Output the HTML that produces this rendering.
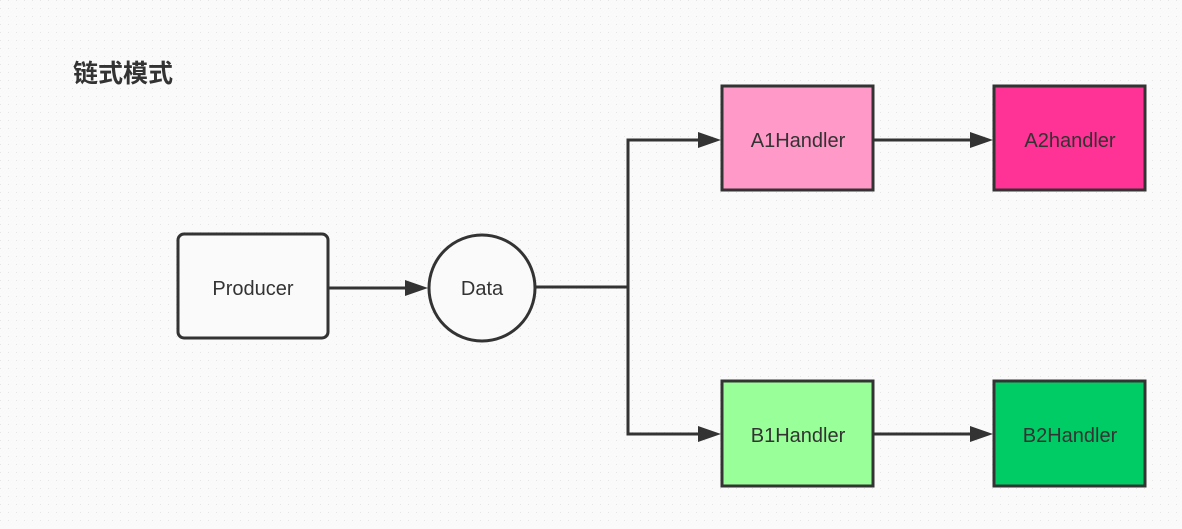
<!DOCTYPE html>
<html><head><meta charset="utf-8"><style>
body{margin:0;width:1182px;height:524px;background:#fafafa;overflow:hidden}
</style></head><body>
<svg width="1182" height="524" xmlns="http://www.w3.org/2000/svg" font-family="'Liberation Sans','Noto Sans CJK SC',sans-serif">
<defs>
<pattern id="d" width="8" height="8" patternUnits="userSpaceOnUse"><rect x="0" y="0" width="1" height="1" fill="#e6e6e6"/></pattern>
</defs>
<rect width="1182" height="524" fill="url(#d)"/>
<text x="73" y="82" font-size="25" font-weight="bold" fill="#333" font-family="'Noto Sans CJK SC',sans-serif">链式模式</text>
<g stroke="#333" stroke-width="3" fill="none">
<rect x="178" y="234" width="150" height="104" rx="6" fill="#fafafa"/>
<circle cx="482" cy="288" r="53" fill="#fafafa"/>
<rect x="722" y="86" width="151" height="104" fill="#ff99c8"/>
<rect x="994" y="86" width="151" height="104" fill="#ff3396"/>
<rect x="722" y="381" width="151" height="105" fill="#99ff99"/>
<rect x="994" y="381" width="151" height="105" fill="#00cc66"/>
<path d="M328 288 H410"/>
<path d="M535 287 H628 V140 H702"/>
<path d="M628 287 V434 H702"/>
<path d="M873 140 H974"/>
<path d="M873 434 H974"/>
</g>
<g fill="#333">
<polygon points="405,280 428,288 405,296"/>
<polygon points="698,132 721,140 698,148"/>
<polygon points="698,426 721,434 698,442"/>
<polygon points="970,132 993,140 970,148"/>
<polygon points="970,426 993,434 970,442"/>
</g>
<g font-size="20" fill="#333" text-anchor="middle">
<text x="253" y="295">Producer</text>
<text x="482" y="295">Data</text>
<text x="798" y="147">A1Handler</text>
<text x="1070" y="147">A2handler</text>
<text x="798" y="442">B1Handler</text>
<text x="1070" y="442">B2Handler</text>
</g>
</svg>
</body></html>
